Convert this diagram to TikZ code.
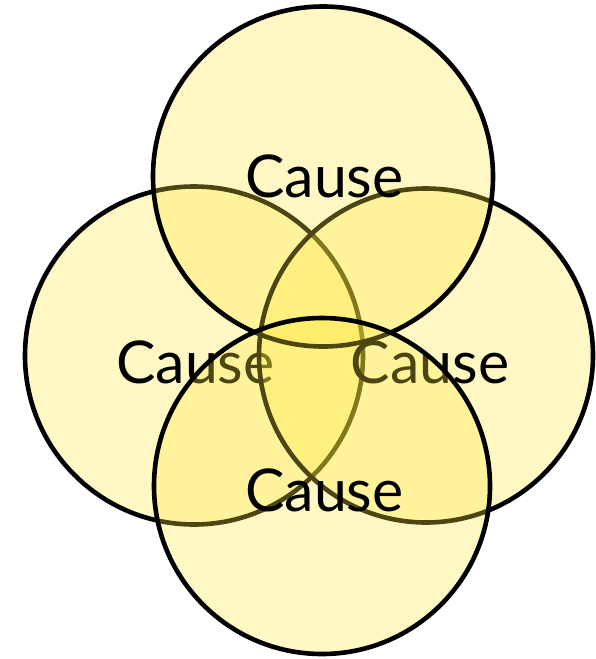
\documentclass[tikz,border=0pt]{standalone}
\usepackage{fontspec}
\setmainfont{Lato}
\definecolor{vennyellow}{RGB}{255,232,60}
\begin{document}
\begin{tikzpicture}[x=1pt,y=-1pt,
  venn/.style={draw=black, line width=4.6pt, fill=vennyellow, fill opacity=0.3, draw opacity=1},
  lbl/.style={font=\fontsize{59}{62}\selectfont, inner sep=0pt, anchor=base, text=black}]
\useasboundingbox (0,0) rectangle (595,659);
% left
\draw[venn] (194,355.5) circle[radius=169pt];
\node[lbl] (L) at (195.5,383) {Cause};
% right
\draw[venn] (426,355.5) circle[radius=167pt];
\node[lbl] (R) at (430,383) {Cause};
% top
\draw[venn] (323,176.5) circle[radius=170pt];
\node[lbl] (T) at (324.5,197) {Cause};
% bottom
\draw[venn] (322,486) circle[radius=168pt];
\node[lbl] (B) at (324.5,511) {Cause};
\end{tikzpicture}
\end{document}
